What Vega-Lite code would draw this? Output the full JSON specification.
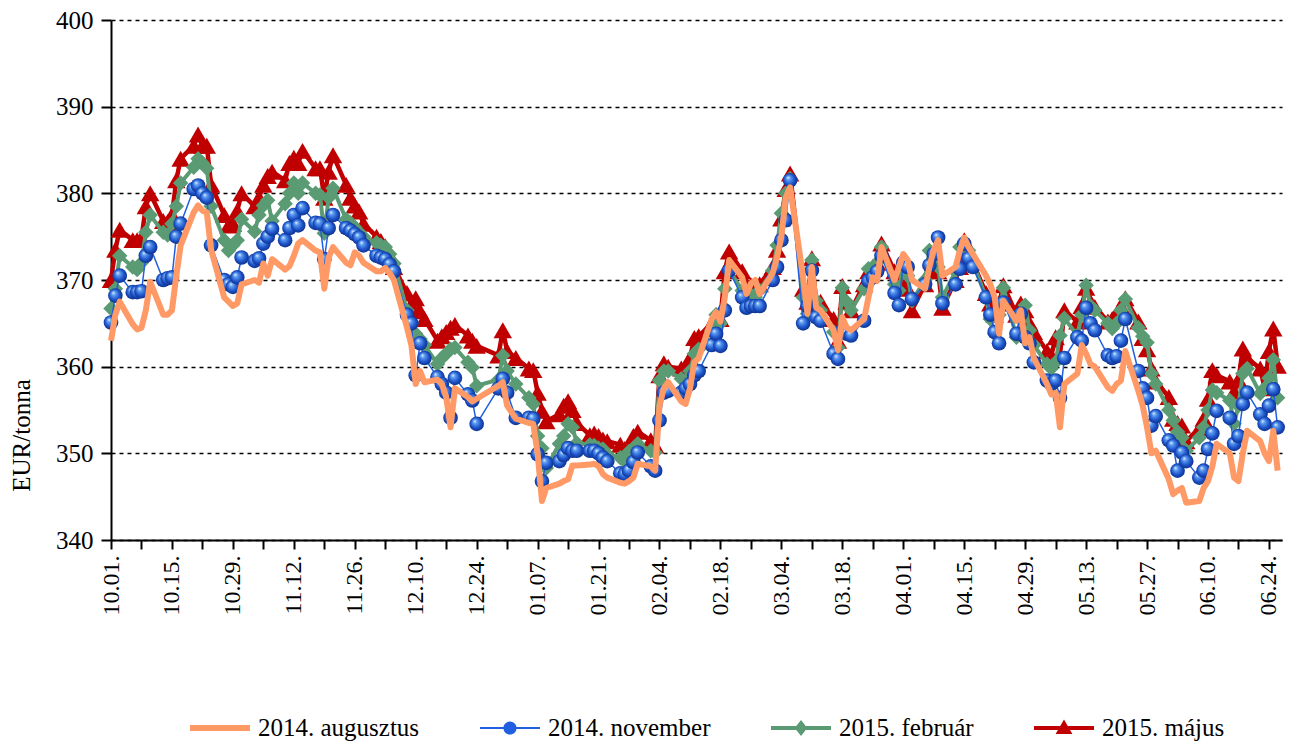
{
"$schema":"https://vega.github.io/schema/vega-lite/v6.json",
"width":1171,"height":520,
"autosize":{"type":"none"},
"padding":{"left":111,"top":20,"right":11,"bottom":204},
"background":"white",
"config":{"view":{"stroke":null},"font":"Liberation Serif"},
"datasets":{
"a":[{"d":"2014-10-01","v":363.0},{"d":"2014-10-02","v":366.0},{"d":"2014-10-03","v":367.5},{"d":"2014-10-06","v":364.9},{"d":"2014-10-07","v":364.3},{"d":"2014-10-08","v":364.5},{"d":"2014-10-09","v":366.5},{"d":"2014-10-10","v":369.8},{"d":"2014-10-13","v":366.0},{"d":"2014-10-14","v":366.0},{"d":"2014-10-15","v":366.5},{"d":"2014-10-16","v":370.5},{"d":"2014-10-17","v":374.0},{"d":"2014-10-20","v":377.8},{"d":"2014-10-21","v":378.6},{"d":"2014-10-22","v":378.0},{"d":"2014-10-23","v":377.8},{"d":"2014-10-24","v":373.5},{"d":"2014-10-27","v":368.0},{"d":"2014-10-28","v":367.5},{"d":"2014-10-29","v":367.0},{"d":"2014-10-30","v":367.3},{"d":"2014-10-31","v":369.5},
{"d":"2014-11-03","v":370.0},{"d":"2014-11-04","v":369.7},{"d":"2014-11-05","v":371.9},{"d":"2014-11-06","v":370.5},{"d":"2014-11-07","v":372.4},{"d":"2014-11-10","v":371.2},{"d":"2014-11-11","v":371.6},{"d":"2014-11-12","v":372.8},{"d":"2014-11-13","v":374.2},{"d":"2014-11-14","v":374.6},{"d":"2014-11-17","v":373.4},{"d":"2014-11-18","v":373.2},{"d":"2014-11-19","v":369.0},{"d":"2014-11-20","v":372.6},{"d":"2014-11-21","v":373.8},{"d":"2014-11-24","v":372.0},{"d":"2014-11-25","v":371.7},{"d":"2014-11-26","v":373.2},{"d":"2014-11-27","v":372.8},{"d":"2014-11-28","v":372.0},
{"d":"2014-12-01","v":371.0},{"d":"2014-12-02","v":371.0},{"d":"2014-12-03","v":371.4},{"d":"2014-12-04","v":370.8},{"d":"2014-12-05","v":370.0},{"d":"2014-12-08","v":364.5},{"d":"2014-12-09","v":362.5},{"d":"2014-12-10","v":358.0},{"d":"2014-12-11","v":359.5},{"d":"2014-12-12","v":358.2},{"d":"2014-12-15","v":358.5},{"d":"2014-12-16","v":358.0},{"d":"2014-12-17","v":356.5},{"d":"2014-12-18","v":353.0},{"d":"2014-12-19","v":357.5},{"d":"2014-12-22","v":356.5},{"d":"2014-12-23","v":356.0},{"d":"2014-12-24","v":356.3},{"d":"2014-12-29","v":357.8},{"d":"2014-12-30","v":358.2},{"d":"2014-12-31","v":355.5},
{"d":"2015-01-02","v":354.0},{"d":"2015-01-05","v":353.5},{"d":"2015-01-06","v":353.4},{"d":"2015-01-07","v":350.0},{"d":"2015-01-08","v":344.5},{"d":"2015-01-09","v":346.0},{"d":"2015-01-12","v":346.5},{"d":"2015-01-13","v":346.8},{"d":"2015-01-14","v":347.0},{"d":"2015-01-15","v":348.6},{"d":"2015-01-16","v":348.6},{"d":"2015-01-19","v":348.7},{"d":"2015-01-20","v":348.8},{"d":"2015-01-21","v":348.5},{"d":"2015-01-22","v":347.6},{"d":"2015-01-23","v":347.2},{"d":"2015-01-26","v":346.6},{"d":"2015-01-27","v":346.5},{"d":"2015-01-28","v":346.8},{"d":"2015-01-29","v":347.2},{"d":"2015-01-30","v":348.8},
{"d":"2015-02-02","v":348.5},{"d":"2015-02-03","v":348.0},{"d":"2015-02-04","v":355.5},{"d":"2015-02-05","v":357.5},{"d":"2015-02-06","v":358.2},{"d":"2015-02-09","v":356.0},{"d":"2015-02-10","v":355.7},{"d":"2015-02-11","v":357.5},{"d":"2015-02-12","v":360.5},{"d":"2015-02-13","v":361.0},{"d":"2015-02-16","v":365.5},{"d":"2015-02-17","v":366.3},{"d":"2015-02-18","v":365.2},{"d":"2015-02-19","v":368.0},{"d":"2015-02-20","v":372.3},{"d":"2015-02-23","v":370.3},{"d":"2015-02-24","v":368.4},{"d":"2015-02-25","v":369.6},{"d":"2015-02-26","v":370.0},{"d":"2015-02-27","v":368.4},
{"d":"2015-03-02","v":370.8},{"d":"2015-03-03","v":372.6},{"d":"2015-03-04","v":375.0},{"d":"2015-03-05","v":379.5},{"d":"2015-03-06","v":380.7},{"d":"2015-03-09","v":370.3},{"d":"2015-03-10","v":366.1},{"d":"2015-03-11","v":371.5},{"d":"2015-03-12","v":366.8},{"d":"2015-03-13","v":366.5},{"d":"2015-03-16","v":364.2},{"d":"2015-03-17","v":361.9},{"d":"2015-03-18","v":365.7},{"d":"2015-03-19","v":364.5},{"d":"2015-03-20","v":364.2},{"d":"2015-03-23","v":365.5},{"d":"2015-03-24","v":368.0},{"d":"2015-03-25","v":370.3},{"d":"2015-03-26","v":369.9},{"d":"2015-03-27","v":373.8},{"d":"2015-03-30","v":370.0},{"d":"2015-03-31","v":371.5},
{"d":"2015-04-01","v":373.0},{"d":"2015-04-02","v":372.3},{"d":"2015-04-03","v":370.0},{"d":"2015-04-06","v":369.0},{"d":"2015-04-07","v":371.5},{"d":"2015-04-08","v":373.5},{"d":"2015-04-09","v":374.6},{"d":"2015-04-10","v":370.5},{"d":"2015-04-13","v":371.5},{"d":"2015-04-14","v":373.4},{"d":"2015-04-15","v":374.9},{"d":"2015-04-16","v":373.8},{"d":"2015-04-17","v":373.0},{"d":"2015-04-20","v":370.5},{"d":"2015-04-21","v":369.5},{"d":"2015-04-22","v":368.0},{"d":"2015-04-23","v":363.8},{"d":"2015-04-24","v":367.6},{"d":"2015-04-27","v":365.3},{"d":"2015-04-28","v":366.5},{"d":"2015-04-29","v":362.7},{"d":"2015-04-30","v":363.4},
{"d":"2015-05-01","v":361.0},{"d":"2015-05-04","v":358.0},{"d":"2015-05-05","v":356.8},{"d":"2015-05-06","v":357.0},{"d":"2015-05-07","v":353.0},{"d":"2015-05-08","v":358.0},{"d":"2015-05-11","v":359.2},{"d":"2015-05-12","v":362.5},{"d":"2015-05-13","v":361.5},{"d":"2015-05-14","v":360.3},{"d":"2015-05-15","v":360.0},{"d":"2015-05-18","v":357.6},{"d":"2015-05-19","v":357.2},{"d":"2015-05-20","v":358.0},{"d":"2015-05-21","v":358.4},{"d":"2015-05-22","v":361.8},{"d":"2015-05-25","v":357.2},{"d":"2015-05-26","v":355.5},{"d":"2015-05-27","v":353.0},{"d":"2015-05-28","v":350.0},{"d":"2015-05-29","v":350.3},
{"d":"2015-06-01","v":347.0},{"d":"2015-06-02","v":345.3},{"d":"2015-06-03","v":345.7},{"d":"2015-06-04","v":346.0},{"d":"2015-06-05","v":344.3},{"d":"2015-06-08","v":344.5},{"d":"2015-06-09","v":346.0},{"d":"2015-06-10","v":346.8},{"d":"2015-06-11","v":348.5},{"d":"2015-06-12","v":351.1},{"d":"2015-06-15","v":350.0},{"d":"2015-06-16","v":347.2},{"d":"2015-06-17","v":346.8},{"d":"2015-06-18","v":350.0},{"d":"2015-06-19","v":352.6},{"d":"2015-06-22","v":351.4},{"d":"2015-06-23","v":350.0},{"d":"2015-06-24","v":349.1},{"d":"2015-06-25","v":352.6},{"d":"2015-06-26","v":348.0}],
"n":[{"d":"2014-10-01","v":365.1},{"d":"2014-10-02","v":368.2},{"d":"2014-10-03","v":370.5},{"d":"2014-10-06","v":368.6},{"d":"2014-10-07","v":368.6},{"d":"2014-10-08","v":368.7},{"d":"2014-10-09","v":372.8},{"d":"2014-10-10","v":373.8},{"d":"2014-10-13","v":370.0},{"d":"2014-10-14","v":370.2},{"d":"2014-10-15","v":370.3},{"d":"2014-10-16","v":375.0},{"d":"2014-10-17","v":376.5},{"d":"2014-10-20","v":380.5},{"d":"2014-10-21","v":380.9},{"d":"2014-10-22","v":380.0},{"d":"2014-10-23","v":379.5},{"d":"2014-10-24","v":374.0},{"d":"2014-10-27","v":370.0},{"d":"2014-10-28","v":369.5},{"d":"2014-10-29","v":369.2},{"d":"2014-10-30","v":370.3},{"d":"2014-10-31","v":372.6},
{"d":"2014-11-03","v":372.2},{"d":"2014-11-04","v":372.5},{"d":"2014-11-05","v":374.2},{"d":"2014-11-06","v":375.0},{"d":"2014-11-07","v":375.9},{"d":"2014-11-10","v":374.6},{"d":"2014-11-11","v":376.0},{"d":"2014-11-12","v":377.5},{"d":"2014-11-13","v":376.3},{"d":"2014-11-14","v":378.3},{"d":"2014-11-17","v":376.6},{"d":"2014-11-18","v":376.5},{"d":"2014-11-19","v":372.4},{"d":"2014-11-20","v":376.0},{"d":"2014-11-21","v":377.5},{"d":"2014-11-24","v":376.0},{"d":"2014-11-25","v":375.7},{"d":"2014-11-26","v":375.3},{"d":"2014-11-27","v":374.9},{"d":"2014-11-28","v":374.0},
{"d":"2014-12-01","v":372.8},{"d":"2014-12-02","v":372.6},{"d":"2014-12-03","v":372.4},{"d":"2014-12-04","v":371.8},{"d":"2014-12-05","v":371.0},{"d":"2014-12-08","v":366.0},{"d":"2014-12-09","v":365.0},{"d":"2014-12-10","v":359.0},{"d":"2014-12-11","v":362.7},{"d":"2014-12-12","v":361.0},{"d":"2014-12-15","v":358.8},{"d":"2014-12-16","v":358.0},{"d":"2014-12-17","v":357.0},{"d":"2014-12-18","v":354.1},{"d":"2014-12-19","v":358.7},{"d":"2014-12-22","v":356.8},{"d":"2014-12-23","v":356.1},{"d":"2014-12-24","v":353.4},{"d":"2014-12-29","v":357.5},{"d":"2014-12-30","v":358.6},{"d":"2014-12-31","v":357.0},
{"d":"2015-01-02","v":354.1},{"d":"2015-01-05","v":354.1},{"d":"2015-01-06","v":354.0},{"d":"2015-01-07","v":349.9},{"d":"2015-01-08","v":346.8},{"d":"2015-01-09","v":348.9},{"d":"2015-01-12","v":349.1},{"d":"2015-01-13","v":349.8},{"d":"2015-01-14","v":350.6},{"d":"2015-01-15","v":350.3},{"d":"2015-01-16","v":350.3},{"d":"2015-01-19","v":350.3},{"d":"2015-01-20","v":350.3},{"d":"2015-01-21","v":350.0},{"d":"2015-01-22","v":349.5},{"d":"2015-01-23","v":349.1},{"d":"2015-01-26","v":347.7},{"d":"2015-01-27","v":347.6},{"d":"2015-01-28","v":348.0},{"d":"2015-01-29","v":349.0},{"d":"2015-01-30","v":350.1},
{"d":"2015-02-02","v":348.5},{"d":"2015-02-03","v":348.0},{"d":"2015-02-04","v":353.8},{"d":"2015-02-05","v":357.0},{"d":"2015-02-06","v":357.2},{"d":"2015-02-09","v":357.0},{"d":"2015-02-10","v":357.5},{"d":"2015-02-11","v":358.0},{"d":"2015-02-12","v":359.0},{"d":"2015-02-13","v":359.5},{"d":"2015-02-16","v":362.5},{"d":"2015-02-17","v":363.8},{"d":"2015-02-18","v":362.4},{"d":"2015-02-19","v":366.5},{"d":"2015-02-20","v":371.1},{"d":"2015-02-23","v":368.0},{"d":"2015-02-24","v":366.8},{"d":"2015-02-25","v":367.0},{"d":"2015-02-26","v":367.0},{"d":"2015-02-27","v":367.0},
{"d":"2015-03-02","v":370.0},{"d":"2015-03-03","v":371.5},{"d":"2015-03-04","v":374.6},{"d":"2015-03-05","v":376.9},{"d":"2015-03-06","v":381.5},{"d":"2015-03-09","v":365.0},{"d":"2015-03-10","v":367.0},{"d":"2015-03-11","v":371.1},{"d":"2015-03-12","v":365.7},{"d":"2015-03-13","v":365.3},{"d":"2015-03-16","v":361.5},{"d":"2015-03-17","v":360.9},{"d":"2015-03-18","v":364.2},{"d":"2015-03-19","v":363.8},{"d":"2015-03-20","v":363.6},{"d":"2015-03-23","v":365.3},{"d":"2015-03-24","v":369.9},{"d":"2015-03-25","v":370.3},{"d":"2015-03-26","v":371.0},{"d":"2015-03-27","v":372.8},{"d":"2015-03-30","v":368.5},{"d":"2015-03-31","v":367.1},
{"d":"2015-04-01","v":372.0},{"d":"2015-04-02","v":371.5},{"d":"2015-04-03","v":367.8},{"d":"2015-04-06","v":369.5},{"d":"2015-04-07","v":371.7},{"d":"2015-04-08","v":373.0},{"d":"2015-04-09","v":374.9},{"d":"2015-04-10","v":367.3},{"d":"2015-04-13","v":369.5},{"d":"2015-04-14","v":371.3},{"d":"2015-04-15","v":374.2},{"d":"2015-04-16","v":372.5},{"d":"2015-04-17","v":371.5},{"d":"2015-04-20","v":368.0},{"d":"2015-04-21","v":366.0},{"d":"2015-04-22","v":364.0},{"d":"2015-04-23","v":362.7},{"d":"2015-04-24","v":367.4},{"d":"2015-04-27","v":363.8},{"d":"2015-04-28","v":366.1},{"d":"2015-04-29","v":363.4},{"d":"2015-04-30","v":362.7},
{"d":"2015-05-01","v":360.5},{"d":"2015-05-04","v":358.4},{"d":"2015-05-05","v":358.0},{"d":"2015-05-06","v":358.4},{"d":"2015-05-07","v":356.4},{"d":"2015-05-08","v":361.0},{"d":"2015-05-11","v":363.4},{"d":"2015-05-12","v":363.0},{"d":"2015-05-13","v":366.8},{"d":"2015-05-14","v":365.0},{"d":"2015-05-15","v":364.2},{"d":"2015-05-18","v":361.3},{"d":"2015-05-19","v":361.0},{"d":"2015-05-20","v":361.2},{"d":"2015-05-21","v":363.0},{"d":"2015-05-22","v":365.5},{"d":"2015-05-25","v":359.5},{"d":"2015-05-26","v":357.5},{"d":"2015-05-27","v":356.4},{"d":"2015-05-28","v":353.2},{"d":"2015-05-29","v":354.3},
{"d":"2015-06-01","v":351.5},{"d":"2015-06-02","v":350.9},{"d":"2015-06-03","v":348.0},{"d":"2015-06-04","v":350.1},{"d":"2015-06-05","v":349.1},{"d":"2015-06-08","v":347.2},{"d":"2015-06-09","v":348.0},{"d":"2015-06-10","v":350.5},{"d":"2015-06-11","v":352.3},{"d":"2015-06-12","v":354.9},{"d":"2015-06-15","v":354.1},{"d":"2015-06-16","v":351.1},{"d":"2015-06-17","v":352.0},{"d":"2015-06-18","v":355.7},{"d":"2015-06-19","v":357.0},{"d":"2015-06-22","v":354.5},{"d":"2015-06-23","v":353.4},{"d":"2015-06-24","v":355.5},{"d":"2015-06-25","v":357.4},{"d":"2015-06-26","v":353.0}],
"f":[{"d":"2014-10-01","v":366.7},{"d":"2014-10-02","v":369.0},{"d":"2014-10-03","v":372.8},{"d":"2014-10-06","v":371.5},{"d":"2014-10-07","v":371.2},{"d":"2014-10-08","v":372.0},{"d":"2014-10-09","v":375.5},{"d":"2014-10-10","v":377.5},{"d":"2014-10-13","v":375.5},{"d":"2014-10-14","v":375.2},{"d":"2014-10-15","v":376.5},{"d":"2014-10-16","v":378.5},{"d":"2014-10-17","v":381.2},{"d":"2014-10-20","v":383.0},{"d":"2014-10-21","v":384.0},{"d":"2014-10-22","v":383.5},{"d":"2014-10-23","v":382.9},{"d":"2014-10-24","v":378.5},{"d":"2014-10-27","v":374.6},{"d":"2014-10-28","v":373.4},{"d":"2014-10-29","v":374.0},{"d":"2014-10-30","v":374.6},{"d":"2014-10-31","v":377.0},
{"d":"2014-11-03","v":375.6},{"d":"2014-11-04","v":377.5},{"d":"2014-11-05","v":378.6},{"d":"2014-11-06","v":379.2},{"d":"2014-11-07","v":376.8},{"d":"2014-11-10","v":378.8},{"d":"2014-11-11","v":380.0},{"d":"2014-11-12","v":381.2},{"d":"2014-11-13","v":380.0},{"d":"2014-11-14","v":381.2},{"d":"2014-11-17","v":380.0},{"d":"2014-11-18","v":379.8},{"d":"2014-11-19","v":375.4},{"d":"2014-11-20","v":379.5},{"d":"2014-11-21","v":380.6},{"d":"2014-11-24","v":377.0},{"d":"2014-11-25","v":376.6},{"d":"2014-11-26","v":376.1},{"d":"2014-11-27","v":375.5},{"d":"2014-11-28","v":375.0},
{"d":"2014-12-01","v":374.3},{"d":"2014-12-02","v":374.0},{"d":"2014-12-03","v":373.8},{"d":"2014-12-04","v":373.0},{"d":"2014-12-05","v":371.9},{"d":"2014-12-08","v":366.5},{"d":"2014-12-09","v":365.0},{"d":"2014-12-10","v":363.8},{"d":"2014-12-11","v":363.2},{"d":"2014-12-12","v":362.5},{"d":"2014-12-15","v":360.3},{"d":"2014-12-16","v":361.0},{"d":"2014-12-17","v":361.5},{"d":"2014-12-18","v":362.0},{"d":"2014-12-19","v":362.2},{"d":"2014-12-22","v":360.5},{"d":"2014-12-23","v":359.9},{"d":"2014-12-24","v":357.8},{"d":"2014-12-29","v":358.5},{"d":"2014-12-30","v":361.3},{"d":"2014-12-31","v":359.5},
{"d":"2015-01-02","v":358.0},{"d":"2015-01-05","v":356.4},{"d":"2015-01-06","v":355.7},{"d":"2015-01-07","v":352.0},{"d":"2015-01-08","v":350.6},{"d":"2015-01-09","v":348.3},{"d":"2015-01-12","v":351.1},{"d":"2015-01-13","v":352.0},{"d":"2015-01-14","v":353.4},{"d":"2015-01-15","v":353.0},{"d":"2015-01-16","v":351.2},{"d":"2015-01-19","v":351.0},{"d":"2015-01-20","v":350.9},{"d":"2015-01-21","v":350.6},{"d":"2015-01-22","v":350.5},{"d":"2015-01-23","v":349.9},{"d":"2015-01-26","v":349.5},{"d":"2015-01-27","v":349.1},{"d":"2015-01-28","v":350.2},{"d":"2015-01-29","v":350.6},{"d":"2015-01-30","v":351.1},
{"d":"2015-02-02","v":350.3},{"d":"2015-02-03","v":350.1},{"d":"2015-02-04","v":358.4},{"d":"2015-02-05","v":359.5},{"d":"2015-02-06","v":359.5},{"d":"2015-02-09","v":358.6},{"d":"2015-02-10","v":358.4},{"d":"2015-02-11","v":359.5},{"d":"2015-02-12","v":361.5},{"d":"2015-02-13","v":362.0},{"d":"2015-02-16","v":364.2},{"d":"2015-02-17","v":366.0},{"d":"2015-02-18","v":365.0},{"d":"2015-02-19","v":369.0},{"d":"2015-02-20","v":371.1},{"d":"2015-02-23","v":368.8},{"d":"2015-02-24","v":368.5},{"d":"2015-02-25","v":368.3},{"d":"2015-02-26","v":368.0},{"d":"2015-02-27","v":368.8},
{"d":"2015-03-02","v":371.1},{"d":"2015-03-03","v":374.0},{"d":"2015-03-04","v":377.7},{"d":"2015-03-05","v":380.0},{"d":"2015-03-06","v":381.7},{"d":"2015-03-09","v":368.0},{"d":"2015-03-10","v":366.1},{"d":"2015-03-11","v":372.3},{"d":"2015-03-12","v":367.6},{"d":"2015-03-13","v":366.5},{"d":"2015-03-16","v":364.0},{"d":"2015-03-17","v":362.2},{"d":"2015-03-18","v":369.1},{"d":"2015-03-19","v":367.5},{"d":"2015-03-20","v":366.5},{"d":"2015-03-23","v":369.0},{"d":"2015-03-24","v":371.3},{"d":"2015-03-25","v":371.0},{"d":"2015-03-26","v":372.0},{"d":"2015-03-27","v":373.8},{"d":"2015-03-30","v":369.5},{"d":"2015-03-31","v":368.8},
{"d":"2015-04-01","v":371.9},{"d":"2015-04-02","v":370.5},{"d":"2015-04-03","v":367.6},{"d":"2015-04-06","v":370.0},{"d":"2015-04-07","v":373.4},{"d":"2015-04-08","v":372.5},{"d":"2015-04-09","v":371.5},{"d":"2015-04-10","v":368.0},{"d":"2015-04-13","v":371.0},{"d":"2015-04-14","v":373.8},{"d":"2015-04-15","v":373.8},{"d":"2015-04-16","v":373.4},{"d":"2015-04-17","v":372.0},{"d":"2015-04-20","v":368.0},{"d":"2015-04-21","v":365.5},{"d":"2015-04-22","v":363.8},{"d":"2015-04-23","v":366.0},{"d":"2015-04-24","v":369.1},{"d":"2015-04-27","v":363.4},{"d":"2015-04-28","v":365.5},{"d":"2015-04-29","v":367.1},{"d":"2015-04-30","v":364.2},
{"d":"2015-05-01","v":362.5},{"d":"2015-05-04","v":360.3},{"d":"2015-05-05","v":359.8},{"d":"2015-05-06","v":360.5},{"d":"2015-05-07","v":363.6},{"d":"2015-05-08","v":365.6},{"d":"2015-05-11","v":363.6},{"d":"2015-05-12","v":366.0},{"d":"2015-05-13","v":369.4},{"d":"2015-05-14","v":367.0},{"d":"2015-05-15","v":366.5},{"d":"2015-05-18","v":365.0},{"d":"2015-05-19","v":364.4},{"d":"2015-05-20","v":365.0},{"d":"2015-05-21","v":366.5},{"d":"2015-05-22","v":367.8},{"d":"2015-05-25","v":364.5},{"d":"2015-05-26","v":363.5},{"d":"2015-05-27","v":362.8},{"d":"2015-05-28","v":359.2},{"d":"2015-05-29","v":358.0},
{"d":"2015-06-01","v":355.0},{"d":"2015-06-02","v":353.8},{"d":"2015-06-03","v":352.5},{"d":"2015-06-04","v":351.8},{"d":"2015-06-05","v":350.3},{"d":"2015-06-08","v":351.8},{"d":"2015-06-09","v":353.0},{"d":"2015-06-10","v":355.0},{"d":"2015-06-11","v":357.3},{"d":"2015-06-12","v":357.0},{"d":"2015-06-15","v":356.1},{"d":"2015-06-16","v":353.4},{"d":"2015-06-17","v":355.5},{"d":"2015-06-18","v":359.2},{"d":"2015-06-19","v":359.8},{"d":"2015-06-22","v":356.9},{"d":"2015-06-23","v":357.5},{"d":"2015-06-24","v":358.7},{"d":"2015-06-25","v":360.8},{"d":"2015-06-26","v":356.4}],
"m":[{"d":"2014-10-01","v":370.0},{"d":"2014-10-02","v":373.5},{"d":"2014-10-03","v":375.8},{"d":"2014-10-06","v":374.6},{"d":"2014-10-07","v":374.6},{"d":"2014-10-08","v":374.8},{"d":"2014-10-09","v":378.5},{"d":"2014-10-10","v":380.0},{"d":"2014-10-13","v":376.8},{"d":"2014-10-14","v":376.7},{"d":"2014-10-15","v":377.5},{"d":"2014-10-16","v":381.5},{"d":"2014-10-17","v":384.0},{"d":"2014-10-20","v":385.5},{"d":"2014-10-21","v":386.8},{"d":"2014-10-22","v":385.5},{"d":"2014-10-23","v":385.5},{"d":"2014-10-24","v":381.0},{"d":"2014-10-27","v":377.5},{"d":"2014-10-28","v":376.3},{"d":"2014-10-29","v":376.5},{"d":"2014-10-30","v":378.0},{"d":"2014-10-31","v":380.0},
{"d":"2014-11-03","v":378.5},{"d":"2014-11-04","v":379.5},{"d":"2014-11-05","v":381.0},{"d":"2014-11-06","v":382.0},{"d":"2014-11-07","v":382.5},{"d":"2014-11-10","v":381.5},{"d":"2014-11-11","v":383.5},{"d":"2014-11-12","v":384.1},{"d":"2014-11-13","v":383.5},{"d":"2014-11-14","v":384.9},{"d":"2014-11-17","v":382.9},{"d":"2014-11-18","v":382.9},{"d":"2014-11-19","v":379.5},{"d":"2014-11-20","v":382.5},{"d":"2014-11-21","v":384.4},{"d":"2014-11-24","v":381.0},{"d":"2014-11-25","v":379.5},{"d":"2014-11-26","v":378.6},{"d":"2014-11-27","v":377.9},{"d":"2014-11-28","v":376.5},
{"d":"2014-12-01","v":375.0},{"d":"2014-12-02","v":374.5},{"d":"2014-12-03","v":373.9},{"d":"2014-12-04","v":372.9},{"d":"2014-12-05","v":371.5},{"d":"2014-12-08","v":368.5},{"d":"2014-12-09","v":367.0},{"d":"2014-12-10","v":367.9},{"d":"2014-12-11","v":366.4},{"d":"2014-12-12","v":365.5},{"d":"2014-12-15","v":363.0},{"d":"2014-12-16","v":363.5},{"d":"2014-12-17","v":364.0},{"d":"2014-12-18","v":364.5},{"d":"2014-12-19","v":364.8},{"d":"2014-12-22","v":363.6},{"d":"2014-12-23","v":363.0},{"d":"2014-12-24","v":362.4},{"d":"2014-12-29","v":361.3},{"d":"2014-12-30","v":364.2},{"d":"2014-12-31","v":361.8},
{"d":"2015-01-02","v":361.0},{"d":"2015-01-05","v":359.8},{"d":"2015-01-06","v":359.6},{"d":"2015-01-07","v":357.0},{"d":"2015-01-08","v":354.9},{"d":"2015-01-09","v":353.7},{"d":"2015-01-12","v":354.5},{"d":"2015-01-13","v":355.5},{"d":"2015-01-14","v":356.0},{"d":"2015-01-15","v":355.0},{"d":"2015-01-16","v":353.5},{"d":"2015-01-19","v":352.1},{"d":"2015-01-20","v":352.3},{"d":"2015-01-21","v":352.0},{"d":"2015-01-22","v":351.6},{"d":"2015-01-23","v":351.4},{"d":"2015-01-26","v":351.0},{"d":"2015-01-27","v":350.5},{"d":"2015-01-28","v":351.0},{"d":"2015-01-29","v":352.0},{"d":"2015-01-30","v":352.5},
{"d":"2015-02-02","v":351.5},{"d":"2015-02-03","v":350.9},{"d":"2015-02-04","v":359.0},{"d":"2015-02-05","v":360.4},{"d":"2015-02-06","v":360.0},{"d":"2015-02-09","v":359.8},{"d":"2015-02-10","v":359.5},{"d":"2015-02-11","v":361.0},{"d":"2015-02-12","v":363.3},{"d":"2015-02-13","v":363.5},{"d":"2015-02-16","v":365.0},{"d":"2015-02-17","v":365.9},{"d":"2015-02-18","v":365.5},{"d":"2015-02-19","v":371.0},{"d":"2015-02-20","v":373.3},{"d":"2015-02-23","v":371.0},{"d":"2015-02-24","v":369.5},{"d":"2015-02-25","v":369.4},{"d":"2015-02-26","v":369.4},{"d":"2015-02-27","v":369.5},
{"d":"2015-03-02","v":371.5},{"d":"2015-03-03","v":373.5},{"d":"2015-03-04","v":377.1},{"d":"2015-03-05","v":380.5},{"d":"2015-03-06","v":382.3},{"d":"2015-03-09","v":369.0},{"d":"2015-03-10","v":367.5},{"d":"2015-03-11","v":372.5},{"d":"2015-03-12","v":367.5},{"d":"2015-03-13","v":367.5},{"d":"2015-03-16","v":365.5},{"d":"2015-03-17","v":363.0},{"d":"2015-03-18","v":369.3},{"d":"2015-03-19","v":367.5},{"d":"2015-03-20","v":366.5},{"d":"2015-03-23","v":369.5},{"d":"2015-03-24","v":371.0},{"d":"2015-03-25","v":371.5},{"d":"2015-03-26","v":372.0},{"d":"2015-03-27","v":374.2},{"d":"2015-03-30","v":371.0},{"d":"2015-03-31","v":370.0},
{"d":"2015-04-01","v":371.5},{"d":"2015-04-02","v":369.0},{"d":"2015-04-03","v":366.5},{"d":"2015-04-06","v":369.5},{"d":"2015-04-07","v":371.0},{"d":"2015-04-08","v":372.9},{"d":"2015-04-09","v":371.0},{"d":"2015-04-10","v":366.8},{"d":"2015-04-13","v":370.0},{"d":"2015-04-14","v":371.5},{"d":"2015-04-15","v":374.6},{"d":"2015-04-16","v":373.0},{"d":"2015-04-17","v":372.0},{"d":"2015-04-20","v":368.5},{"d":"2015-04-21","v":367.3},{"d":"2015-04-22","v":366.0},{"d":"2015-04-23","v":367.3},{"d":"2015-04-24","v":369.4},{"d":"2015-04-27","v":366.0},{"d":"2015-04-28","v":367.3},{"d":"2015-04-29","v":366.5},{"d":"2015-04-30","v":365.0},
{"d":"2015-05-01","v":364.0},{"d":"2015-05-04","v":361.8},{"d":"2015-05-05","v":361.3},{"d":"2015-05-06","v":363.4},{"d":"2015-05-07","v":361.3},{"d":"2015-05-08","v":366.5},{"d":"2015-05-11","v":365.2},{"d":"2015-05-12","v":367.0},{"d":"2015-05-13","v":369.1},{"d":"2015-05-14","v":367.5},{"d":"2015-05-15","v":366.9},{"d":"2015-05-18","v":365.2},{"d":"2015-05-19","v":365.5},{"d":"2015-05-20","v":366.0},{"d":"2015-05-21","v":367.0},{"d":"2015-05-22","v":367.9},{"d":"2015-05-25","v":365.2},{"d":"2015-05-26","v":363.3},{"d":"2015-05-27","v":362.0},{"d":"2015-05-28","v":359.8},{"d":"2015-05-29","v":358.3},
{"d":"2015-06-01","v":356.5},{"d":"2015-06-02","v":354.0},{"d":"2015-06-03","v":353.5},{"d":"2015-06-04","v":353.2},{"d":"2015-06-05","v":351.4},{"d":"2015-06-08","v":352.9},{"d":"2015-06-09","v":354.0},{"d":"2015-06-10","v":356.3},{"d":"2015-06-11","v":359.6},{"d":"2015-06-12","v":359.0},{"d":"2015-06-15","v":358.3},{"d":"2015-06-16","v":357.1},{"d":"2015-06-17","v":358.5},{"d":"2015-06-18","v":362.1},{"d":"2015-06-19","v":361.0},{"d":"2015-06-22","v":359.8},{"d":"2015-06-23","v":357.5},{"d":"2015-06-24","v":361.8},{"d":"2015-06-25","v":364.4},{"d":"2015-06-26","v":360.1}]
},
"encoding":{
"x":{"field":"d","type":"temporal",
"scale":{"type":"utc","domain":[{"year":2014,"month":10,"date":1,"utc":true},{"year":2015,"month":6,"date":27,"utc":true}]},
"axis":{"title":null,"grid":false,
"values":[{"year":2014,"month":10,"date":1,"utc":true},{"year":2014,"month":10,"date":8,"utc":true},{"year":2014,"month":10,"date":15,"utc":true},{"year":2014,"month":10,"date":22,"utc":true},{"year":2014,"month":10,"date":29,"utc":true},{"year":2014,"month":11,"date":5,"utc":true},{"year":2014,"month":11,"date":12,"utc":true},{"year":2014,"month":11,"date":19,"utc":true},{"year":2014,"month":11,"date":26,"utc":true},{"year":2014,"month":12,"date":3,"utc":true},{"year":2014,"month":12,"date":10,"utc":true},{"year":2014,"month":12,"date":17,"utc":true},{"year":2014,"month":12,"date":24,"utc":true},{"year":2014,"month":12,"date":31,"utc":true},{"year":2015,"month":1,"date":7,"utc":true},{"year":2015,"month":1,"date":14,"utc":true},{"year":2015,"month":1,"date":21,"utc":true},{"year":2015,"month":1,"date":28,"utc":true},{"year":2015,"month":2,"date":4,"utc":true},{"year":2015,"month":2,"date":11,"utc":true},{"year":2015,"month":2,"date":18,"utc":true},{"year":2015,"month":2,"date":25,"utc":true},{"year":2015,"month":3,"date":4,"utc":true},{"year":2015,"month":3,"date":11,"utc":true},{"year":2015,"month":3,"date":18,"utc":true},{"year":2015,"month":3,"date":25,"utc":true},{"year":2015,"month":4,"date":1,"utc":true},{"year":2015,"month":4,"date":8,"utc":true},{"year":2015,"month":4,"date":15,"utc":true},{"year":2015,"month":4,"date":22,"utc":true},{"year":2015,"month":4,"date":29,"utc":true},{"year":2015,"month":5,"date":6,"utc":true},{"year":2015,"month":5,"date":13,"utc":true},{"year":2015,"month":5,"date":20,"utc":true},{"year":2015,"month":5,"date":27,"utc":true},{"year":2015,"month":6,"date":3,"utc":true},{"year":2015,"month":6,"date":10,"utc":true},{"year":2015,"month":6,"date":17,"utc":true},{"year":2015,"month":6,"date":24,"utc":true}],
"labelExpr":"round((datum.value - utc(2014,9,1)) / 604800000) % 2 === 0 ? utcFormat(datum.value, '%m.%d.') : ''",
"labelAngle":-90,"labelFont":"Liberation Serif","labelFontSize":24,"labelColor":"black","labelPadding":6,"labelOverlap":false,"labelBound":false,"labelFlush":false,
"tickColor":"black","tickWidth":2,"tickSize":9,"domainColor":"black","domainWidth":2}},
"y":{"field":"v","type":"quantitative",
"scale":{"domain":[340,400],"nice":false,"zero":false},
"axis":{"values":[340,350,360,370,380,390,400],"grid":true,"gridColor":"black","gridDash":[4,4],"gridWidth":1.6,
"labelFont":"Liberation Serif","labelFontSize":25,"labelColor":"black","labelPadding":8,
"tickColor":"black","tickWidth":2,"tickSize":10,"domainColor":"black","domainWidth":2,
"title":"EUR/tonna","titleFont":"Liberation Serif","titleFontSize":25,"titleFontWeight":"normal","titleColor":"black",
"titleX":-90,"titleY":415,"titleAngle":-90,"titleAlign":"center","titleBaseline":"middle"}}
},
"layer":[
{"data":{"name":"m"},"mark":{"type":"line","strokeWidth":4.5,"strokeJoin":"round"},
"encoding":{"color":{"datum":"2015. május","type":"nominal",
"scale":{"domain":["2014. augusztus","2014. november","2015. február","2015. május"],"range":["#FF9966","#2060E0","#5A9B74","#C00000"]},
"legend":{"title":null,"orient":"none","legendX":79,"legendY":678,"direction":"horizontal","columns":4,"padding":0,
"symbolSize":3600,"labelFont":"Liberation Serif","labelFontSize":25,"labelColor":"black","labelOffset":8,"labelLimit":0,"columnPadding":60,
"encode":{"symbols":{"update":{
"shape":{"signal":"datum.value === '2014. augusztus' ? 'M-1,-0.1H1V0.1H-1Z' : datum.value === '2014. november' ? 'M-1,-0.03H1V0.03H-1Z M0.22,0A0.22,0.22,0,1,1,-0.22,0A0.22,0.22,0,1,1,0.22,0Z' : datum.value === '2015. február' ? 'M-1,-0.07H1V0.07H-1Z M0,-0.27L0.21,0L0,0.27L-0.21,0Z' : 'M-1,-0.07H1V0.07H-1Z M0,-0.28L0.28,0.2L-0.28,0.2Z'"},
"fill":{"scale":"color","field":"value"},"stroke":{"value":"transparent"},"strokeWidth":{"value":0},"opacity":{"value":1}}}}}}}},
{"data":{"name":"m"},"mark":{"type":"point","shape":"triangle-up","filled":true,"size":340,"color":"#C00000","opacity":1}},
{"data":{"name":"f"},"mark":{"type":"line","strokeWidth":4,"strokeJoin":"round"},"encoding":{"color":{"datum":"2015. február","type":"nominal"}}},
{"data":{"name":"f"},"mark":{"type":"point","shape":"diamond","filled":true,"size":240,"color":"#5A9B74","opacity":1}},
{"data":{"name":"n"},"mark":{"type":"line","strokeWidth":1.5,"strokeJoin":"round"},"encoding":{"color":{"datum":"2014. november","type":"nominal"}}},
{"data":{"name":"n"},"mark":{"type":"point","shape":"circle","filled":true,"size":215,"opacity":1,"strokeWidth":0,
"fill":{"gradient":"radial","x1":0.35,"y1":0.3,"r1":0,"x2":0.5,"y2":0.5,"r2":0.55,"stops":[{"offset":0,"color":"#eef5ff"},{"offset":0.25,"color":"#5c9cf2"},{"offset":0.65,"color":"#1d52c8"},{"offset":1,"color":"#0a2a80"}]}}},
{"data":{"name":"a"},"mark":{"type":"line","strokeWidth":6,"strokeJoin":"round"},"encoding":{"color":{"datum":"2014. augusztus","type":"nominal"}}}
]
}
